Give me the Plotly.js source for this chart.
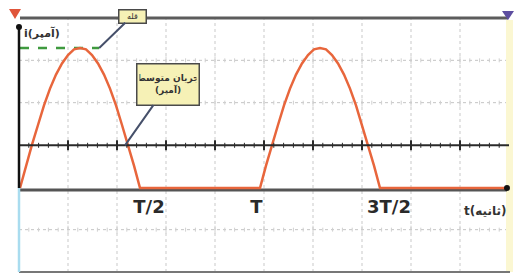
<!DOCTYPE html>
<html>
<head>
<meta charset="utf-8">
<script src="https://cdn.plot.ly/plotly-3.0.1.min.js"></script>
<style>html,body{margin:0;padding:0;background:#fff;}#chart{width:517px;height:275px;}</style>
</head>
<body>
<div id="chart"></div>
<script>
// ---- data (time in units of T, current in units of Im) ----
const timeValues = [
  0, 0.025, 0.05, 0.075, 0.1, 0.125, 0.15, 0.175, 0.2, 0.225, 0.25,
  0.275, 0.3, 0.325, 0.35, 0.375, 0.4, 0.425, 0.45, 0.475, 0.5,
  1.0, 1.025, 1.05, 1.075, 1.1, 1.125, 1.15, 1.175, 1.2, 1.225, 1.25,
  1.275, 1.3, 1.325, 1.35, 1.375, 1.4, 1.425, 1.45, 1.475, 1.5,
  2.03
];
const currentValues = [
  0, 0.16, 0.31, 0.45, 0.59, 0.71, 0.81, 0.89, 0.95, 0.99, 1.0,
  0.99, 0.95, 0.89, 0.81, 0.71, 0.59, 0.45, 0.31, 0.16, 0,
  0, 0.16, 0.31, 0.45, 0.59, 0.71, 0.81, 0.89, 0.95, 0.99, 1.0,
  0.99, 0.95, 0.89, 0.81, 0.71, 0.59, 0.45, 0.31, 0.16, 0,
  0
];
const peakValue = 1.0;
const peakLineEnd = 0.33;
const averageValue = 0.305;
const tickValues = [0.5, 1, 1.5];
const tickLabels = ['T/2', 'T\u00a0\u00a0\u00a0\u00a0', '3T/2'];
const xAxisLabel = 't(ثانیه)';
const yAxisLabel = 'i(آمپر)';
const peakCallout = 'قله';
const averageCallout = 'جریان متوسط<br>(آمپر)';
const averagePointerTime = 0.4375;

// ---- layout helpers (pixel -> paper) ----
const L = 19, R = 509, T = 18, B = 272;
const W = R - L, H = B - T;
const px = x => (x - L) / W;
const py = y => (B - y) / H;
const xRange = [-1 / 240, (R - 20) / 240];
const yRange = [-(B - 188) / 140, (188 - T) / 140];
const axisPos = (0 - yRange[0]) / (yRange[1] - yRange[0]);

const shapes = [];
// vertical dotted grid
for (let k = 1; k < 10; k++) {
  shapes.push({type: 'line', layer: 'below', xref: 'paper', yref: 'paper', x0: k / 10, x1: k / 10, y0: 0, y1: 1,
    line: {color: '#c9c9c9', width: 1, dash: 'dot'}});
}
// horizontal dotted grid with minor marks
[5 / 6, 4 / 6, 1 / 6].forEach(f => {
  shapes.push({type: 'line', layer: 'below', xref: 'paper', yref: 'paper', x0: 0, x1: 1, y0: f, y1: f,
    line: {color: '#c4c4c4', width: 1, dash: 'dot'}});
  for (let m = 1; m < 50; m++) {
    const big = m % 5 === 0;
    shapes.push({type: 'line', layer: 'below', xref: 'paper', yref: 'paper', x0: m / 50, x1: m / 50,
      y0: f - (big ? 4 : 2) / H, y1: f + (big ? 4 : 2) / H, line: {color: '#d0d0d0', width: 1}});
  }
});
// pale yellow strip on the right
shapes.push({type: 'rect', layer: 'below', xref: 'paper', yref: 'paper', x0: px(506), x1: px(513), y0: 0, y1: py(20),
  fillcolor: '#fbf7d2', line: {width: 0}});
// average-current line with marks
shapes.push({type: 'line', xref: 'paper', yref: 'y', x0: 0, x1: 1, y0: averageValue, y1: averageValue,
  line: {color: '#2a2a2a', width: 2}});
for (let m = 1; m < 50; m++) {
  const big = m % 5 === 0;
  shapes.push({type: 'line', xref: 'paper', yref: 'y', x0: m / 50, x1: m / 50,
    y0: averageValue - (big ? 5 : 2.5) / 140, y1: averageValue + (big ? 5 : 2.5) / 140,
    line: {color: '#2a2a2a', width: big ? 2 : 1}});
}
// time axis line
shapes.push({type: 'line', layer: 'below', xref: 'paper', yref: 'y', x0: 0, x1: px(507), y0: -2 / 140, y1: -2 / 140,
  line: {color: '#555', width: 3}});
// frame lines
shapes.push({type: 'line', xref: 'paper', yref: 'paper', x0: px(20), x1: px(508), y0: 1, y1: 1, line: {color: '#5c5c5c', width: 3}});
shapes.push({type: 'line', xref: 'paper', yref: 'paper', x0: 0, x1: px(510), y0: 0, y1: 0, line: {color: '#777', width: 2}});
shapes.push({type: 'line', xref: 'paper', yref: 'paper', x0: 0, x1: 0, y0: axisPos, y1: py(27), line: {color: '#111', width: 2.5}});
shapes.push({type: 'line', xref: 'paper', yref: 'paper', x0: 0, x1: 0, y0: 0, y1: axisPos, line: {color: '#a9dcef', width: 2.5}});
// dots
shapes.push({type: 'circle', xref: 'paper', yref: 'paper', x0: px(16), x1: px(22), y0: py(30), y1: py(24), fillcolor: '#111', line: {width: 0}});
shapes.push({type: 'circle', xref: 'paper', yref: 'paper', x0: px(504), x1: px(510), y0: py(191), y1: py(185), fillcolor: '#111', line: {width: 0}});
// triangles
shapes.push({type: 'path', xref: 'paper', yref: 'paper',
  path: `M ${px(9)} ${py(9)} L ${px(21)} ${py(9)} L ${px(15)} ${py(19)} Z`, fillcolor: '#e0553a', line: {width: 0}});
shapes.push({type: 'path', xref: 'paper', yref: 'paper',
  path: `M ${px(502)} ${py(11)} L ${px(514)} ${py(11)} L ${px(508)} ${py(20)} Z`, fillcolor: '#5d4ea0', line: {width: 0}});

const traces = [
  {x: [0, peakLineEnd], y: [peakValue, peakValue], mode: 'lines', line: {color: '#3f9a3f', width: 2.5, dash: 'dash'}, hoverinfo: 'skip'},
  {x: timeValues, y: currentValues, mode: 'lines', line: {color: '#e8663c', width: 2.5}, hoverinfo: 'skip'}
];

const calloutStyle = {bgcolor: '#f6f1b6', bordercolor: '#4a4a4a', borderwidth: 1.5, arrowcolor: '#46506a',
  arrowwidth: 2, arrowhead: 0, showarrow: true, font: {family: 'DejaVu Sans', size: 8, color: '#333'}};

const annotations = [
  {text: yAxisLabel, xref: 'paper', yref: 'paper', x: px(22), y: py(33), xanchor: 'left', yanchor: 'middle',
    showarrow: false, font: {family: 'DejaVu Sans', size: 11, color: '#333', weight: 'bold'}},
  {text: xAxisLabel, xref: 'paper', yref: 'paper', x: px(508), y: py(211), xanchor: 'right', yanchor: 'middle',
    showarrow: false, font: {family: 'DejaVu Sans', size: 12, color: '#333', weight: 'bold'}},
  Object.assign({}, calloutStyle, {text: peakCallout, x: peakLineEnd, y: peakValue, xref: 'x', yref: 'y',
    ax: 33, ay: -32, width: 24, height: 10, borderpad: 1}),
  Object.assign({}, calloutStyle, {text: averageCallout, x: averagePointerTime, y: averageValue, xref: 'x', yref: 'y',
    ax: 43, ay: -61, width: 57, height: 36, borderpad: 2,
    font: {family: 'DejaVu Sans', size: 9, color: '#333', weight: 'bold'}})
];

const layout = {
  width: 517, height: 275,
  margin: {l: L, r: 517 - R, t: T, b: 275 - B, pad: 0},
  paper_bgcolor: '#fff', plot_bgcolor: '#fff',
  showlegend: false,
  xaxis: {range: xRange, showgrid: false, zeroline: false, showline: false, ticks: '',
    tickvals: tickValues, ticktext: tickLabels, anchor: 'free', position: axisPos,
    ticklabelshift: 9, ticklabelstandoff: 6,
    tickfont: {family: 'DejaVu Sans', size: 18, color: '#2a2a2a', weight: 'bold'}},
  yaxis: {range: yRange, showgrid: false, zeroline: false, showline: false, showticklabels: false, ticks: ''},
  shapes: shapes,
  annotations: annotations
};

Plotly.newPlot('chart', traces, layout, {staticPlot: true, displayModeBar: false});
</script>
</body>
</html>
